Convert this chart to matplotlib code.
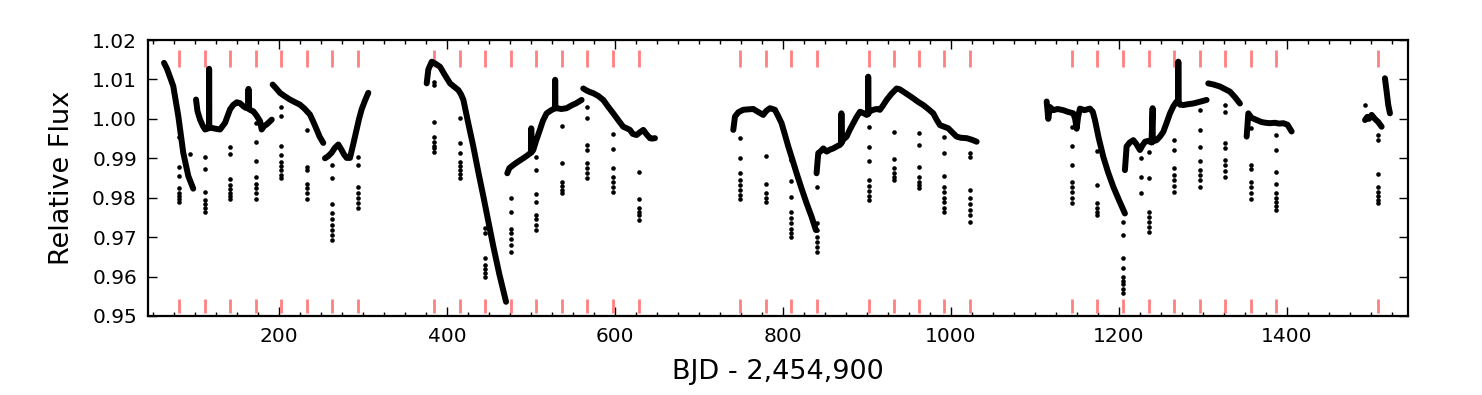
import matplotlib
matplotlib.use("Agg")
import matplotlib.pyplot as plt
from matplotlib.ticker import MultipleLocator, FormatStrFormatter

# ---- continuous light-curve segments (time, flux) ----
seg1_t = [62.7, 66.0, 70.0, 73.7, 79.7, 85.6, 91.6, 97.5]
seg1_f = [1.0142, 1.0128, 1.0105, 1.0083, 1.0007, 0.9914, 0.9855, 0.9823]

seg2_t = [100.8, 102.5, 105.6, 109.0, 111.6, 114.5, 116.3, 116.4, 116.6, 119.5, 124.0, 129.4,
          135.4, 141.3, 145.0, 149.3, 153.0, 157.2, 160.0, 163.2, 163.3, 163.5, 166.0, 169.1,
          173.0, 177.1, 179.0, 182.0, 185.0, 188.0, 191.0]
seg2_f = [1.0049, 1.0020, 0.9998, 0.9982, 0.9973, 0.9975, 0.9978, 1.0127, 0.9978, 0.9977, 0.9975, 0.9973,
          0.9990, 1.0024, 1.0035, 1.0042, 1.0040, 1.0032, 1.0028, 1.0028, 1.0076, 1.0025, 1.0022, 1.0019,
          1.0008, 0.9994, 0.9973, 0.9982, 0.9986, 0.9992, 0.9998]

seg3_t = [192.1, 196.0, 200.8, 206.0, 212.7, 218.0, 224.6, 230.0, 236.5, 240.0, 244.5, 248.0, 252.4]
seg3_f = [1.0087, 1.0078, 1.0066, 1.0058, 1.0049, 1.0043, 1.0036, 1.0026, 1.0011, 0.9995, 0.9973, 0.9955, 0.9939]

seg4_t = [254.4, 258.0, 262.3, 266.0, 270.3, 274.0, 277.0, 280.2, 284.2, 288.0, 292.1, 295.0, 298.1, 302.0, 306.0]
seg4_f = [0.9900, 0.9905, 0.9914, 0.9926, 0.9935, 0.9922, 0.9910, 0.9901, 0.9901, 0.9935, 0.9973, 1.0000, 1.0024, 1.0046, 1.0066]

seg5_t = [375.6, 377.5, 381.6, 386.0, 391.5, 397.0, 403.4, 408.0, 413.3, 416.5, 419.3, 425.0, 431.2,
          437.0, 443.1, 449.0, 455.0, 462.0, 470.1]
seg5_f = [1.0090, 1.0125, 1.0145, 1.0140, 1.0132, 1.0112, 1.0090, 1.0082, 1.0073, 1.0062, 1.0048, 0.9990, 0.9929,
          0.9866, 0.9803, 0.9740, 0.9676, 0.9607, 0.9536]

seg6_t = [471.6, 474.0, 478.7, 484.0, 490.6, 496.0, 500.0, 500.1, 500.3, 502.5, 506.0, 510.4, 514.0,
          518.4, 524.0, 528.5, 528.6, 528.8, 530.3, 536.0, 542.2, 548.0, 554.0, 560.1]
seg6_f = [0.9862, 0.9875, 0.9883, 0.9891, 0.9900, 0.9908, 0.9915, 0.9976, 0.9915, 0.9921, 0.9945, 0.9972, 0.9995,
          1.0014, 1.0022, 1.0027, 1.0099, 1.0027, 1.0027, 1.0025, 1.0027, 1.0034, 1.0040, 1.0048]

seg7_t = [562.1, 566.0, 570.0, 574.0, 580.0, 585.9, 592.0, 597.8, 604.0, 609.7, 614.0, 617.7, 621.0,
          625.6, 629.0, 633.6, 637.0, 641.5, 644.0, 647.5]
seg7_f = [1.0077, 1.0072, 1.0068, 1.0065, 1.0058, 1.0048, 1.0030, 1.0014, 0.9996, 0.9980, 0.9976, 0.9972, 0.9962,
          0.9959, 0.9965, 0.9972, 0.9962, 0.9951, 0.9950, 0.9951]

seg8_t = [740.8, 742.8, 747.0, 752.7, 758.0, 764.6, 770.0, 776.5, 780.0, 784.4, 790.4, 794.0, 798.3,
          802.0, 806.3, 811.0, 816.2, 822.0, 828.1, 834.0, 839.2]
seg8_f = [0.9972, 1.0006, 1.0017, 1.0023, 1.0024, 1.0025, 1.0018, 1.0010, 1.0020, 1.0027, 1.0023, 1.0008, 0.9989,
          0.9962, 0.9930, 0.9898, 0.9862, 0.9824, 0.9786, 0.9752, 0.9718]

seg9_t = [840.0, 842.0, 845.0, 848.0, 852.0, 856.0, 859.9, 864.0, 867.8, 869.5, 869.6, 869.8, 872.0,
          875.8, 879.5, 883.7, 887.5, 891.7, 895.5, 899.6, 901.4, 901.5, 901.7, 904.0, 907.6,
          911.5, 915.5, 919.5, 923.4, 929.0, 935.4, 939.0, 943.3, 949.0, 955.2, 961.0, 967.1,
          973.0, 979.0, 983.0, 987.0, 992.0, 996.9, 1002.0, 1006.8, 1012.0, 1018.8, 1025.0, 1030.7]
seg9_f = [0.9862, 0.9913, 0.9918, 0.9925, 0.9917, 0.9922, 0.9925, 0.9930, 0.9934, 0.9938, 1.0014, 0.9940, 0.9948,
          0.9955, 0.9972, 0.9989, 1.0004, 1.0018, 1.0015, 1.0010, 1.0012, 1.0107, 1.0014, 1.0020, 1.0023,
          1.0025, 1.0023, 1.0035, 1.0048, 1.0063, 1.0077, 1.0075, 1.0069, 1.0061, 1.0052, 1.0043, 1.0035,
          1.0025, 1.0014, 0.9998, 0.9984, 0.9980, 0.9976, 0.9965, 0.9955, 0.9952, 0.9951, 0.9947, 0.9942]

seg10_t = [1114.1, 1116.0, 1118.0, 1122.0, 1127.0, 1133.9, 1139.0, 1145.8, 1148.0, 1149.8, 1151.5,
           1153.7, 1159.0, 1165.6, 1169.0, 1171.6, 1176.0, 1181.5, 1187.0, 1193.4, 1200.0, 1207.3]
seg10_f = [1.0044, 1.0000, 1.0030, 1.0022, 1.0025, 1.0022, 1.0018, 1.0014, 1.0000, 0.9975, 1.0005,
           1.0026, 1.0022, 1.0026, 1.0018, 0.9997, 0.9952, 0.9904, 0.9866, 0.9828, 0.9795, 0.9760]

seg11_t = [1207.3, 1209.3, 1213.0, 1217.3, 1221.0, 1225.2, 1228.0, 1231.2, 1235.0, 1239.0, 1240.3, 1240.5,
           1242.0, 1245.1, 1249.0, 1253.0, 1257.0, 1261.0, 1265.0, 1268.9, 1270.8, 1270.9, 1271.1,
           1273.0, 1276.8, 1282.0, 1288.7, 1296.0, 1304.6]
seg11_f = [0.9870, 0.9930, 0.9940, 0.9946, 0.9936, 0.9921, 0.9932, 0.9942, 0.9944, 0.9940, 1.0027, 0.9942,
           0.9944, 0.9946, 0.9955, 0.9967, 0.9990, 1.0014, 1.0032, 1.0044, 1.0044, 1.0145, 1.0040,
           1.0036, 1.0035, 1.0037, 1.0039, 1.0043, 1.0048]

seg12_t = [1306.6, 1313.0, 1320.5, 1326.0, 1332.4, 1338.0, 1344.3]
seg12_f = [1.0090, 1.0087, 1.0082, 1.0076, 1.0069, 1.0056, 1.0039]

seg13_t = [1352.3, 1354.3, 1358.0, 1364.2, 1370.0, 1375.0, 1380.1, 1386.0, 1391.0, 1396.0, 1401.0, 1405.9]
seg13_f = [0.9955, 1.0014, 1.0003, 0.9997, 0.9992, 0.9990, 0.9989, 0.9990, 0.9988, 0.9989, 0.9985, 0.9968]

seg14_t = [1493.3, 1496.0, 1498.0, 1501.2, 1505.0, 1509.0, 1513.1]
seg14_f = [0.9997, 1.0005, 1.0000, 1.0010, 1.0000, 0.9992, 0.9980]

seg15_t = [1517.0, 1519.0, 1521.0, 1523.0]
seg15_f = [1.0103, 1.0070, 1.0035, 1.0014]

segments_t = [seg1_t, seg2_t, seg3_t, seg4_t, seg5_t, seg6_t, seg7_t, seg8_t,
              seg9_t, seg10_t, seg11_t, seg12_t, seg13_t, seg14_t, seg15_t]
segments_f = [seg1_f, seg2_f, seg3_f, seg4_f, seg5_f, seg6_f, seg7_f, seg8_f,
              seg9_f, seg10_f, seg11_f, seg12_f, seg13_f, seg14_f, seg15_f]

# ---- transit times (red markers) ----
transit_times = [80.9, 111.9, 141.6, 172.6, 202.4, 233.4, 263.1, 294.1,
                 384.3, 415.6, 445.0, 476.0, 505.8, 537.1, 566.9, 597.9, 628.1,
                 749.1, 780.1, 809.9, 840.7, 902.0, 931.7, 962.2, 992.0, 1023.2,
                 1144.6, 1174.4, 1205.0, 1236.3, 1266.0, 1297.0, 1326.7, 1357.7, 1387.5,
                 1509.1]

# ---- in-transit flux points (one list per transit) ----
dip_flux = [
    [0.9955, 0.9879, 0.9856, 0.9824, 0.9812, 0.9805, 0.9798, 0.9790],
    [0.9904, 0.9874, 0.9815, 0.9795, 0.9785, 0.9775, 0.9765],
    [0.9929, 0.9911, 0.9847, 0.9832, 0.9822, 0.9812, 0.9805, 0.9798],
    [0.9989, 0.9942, 0.9894, 0.9853, 0.9836, 0.9825, 0.9812, 0.9798],
    [1.0031, 1.0007, 0.9932, 0.9908, 0.9891, 0.9880, 0.9870, 0.9858, 0.9849],
    [0.9972, 0.9879, 0.9870, 0.9836, 0.9825, 0.9812, 0.9798],
    [0.9883, 0.9849, 0.9784, 0.9760, 0.9745, 0.9730, 0.9718, 0.9705, 0.9693],
    [0.9904, 0.9883, 0.9828, 0.9811, 0.9800, 0.9787, 0.9773],
    [1.0094, 1.0086, 0.9991, 0.9955, 0.9942, 0.9932, 0.9925, 0.9917],
    [1.0001, 0.9940, 0.9913, 0.9891, 0.9880, 0.9870, 0.9860, 0.9849],
    [0.9722, 0.9710, 0.9646, 0.9630, 0.9620, 0.9610, 0.9600],
    [0.9800, 0.9765, 0.9720, 0.9710, 0.9695, 0.9680, 0.9663],
    [0.9904, 0.9870, 0.9809, 0.9790, 0.9756, 0.9745, 0.9730, 0.9718],
    [0.9982, 0.9887, 0.9841, 0.9830, 0.9820, 0.9811],
    [1.0029, 1.0002, 0.9934, 0.9921, 0.9887, 0.9875, 0.9862, 0.9849],
    [0.9961, 0.9923, 0.9875, 0.9853, 0.9840, 0.9828, 0.9815],
    [0.9864, 0.9796, 0.9773, 0.9765, 0.9755, 0.9743],
    [0.9951, 0.9900, 0.9862, 0.9845, 0.9832, 0.9820, 0.9808, 0.9798],
    [0.9907, 0.9835, 0.9811, 0.9800, 0.9790],
    [0.9896, 0.9843, 0.9803, 0.9765, 0.9748, 0.9735, 0.9720, 0.9710, 0.9701],
    [0.9828, 0.9735, 0.9718, 0.9700, 0.9688, 0.9675, 0.9663],
    [0.9980, 0.9929, 0.9894, 0.9845, 0.9830, 0.9818, 0.9805, 0.9794],
    [0.9966, 0.9897, 0.9875, 0.9862, 0.9853, 0.9845],
    [0.9963, 0.9934, 0.9879, 0.9853, 0.9840, 0.9832, 0.9824],
    [0.9955, 0.9913, 0.9856, 0.9828, 0.9815, 0.9800, 0.9788, 0.9775, 0.9765],
    [0.9913, 0.9904, 0.9820, 0.9800, 0.9785, 0.9770, 0.9755, 0.9739],
    [0.9980, 0.9932, 0.9883, 0.9841, 0.9828, 0.9815, 0.9800, 0.9786],
    [0.9919, 0.9832, 0.9786, 0.9775, 0.9765, 0.9756],
    [0.9739, 0.9705, 0.9646, 0.9621, 0.9600, 0.9590, 0.9580, 0.9568, 0.9558],
    [0.9917, 0.9849, 0.9765, 0.9750, 0.9738, 0.9725, 0.9714],
    [0.9946, 0.9921, 0.9875, 0.9858, 0.9845, 0.9830, 0.9815],
    [1.0022, 0.9973, 0.9928, 0.9894, 0.9870, 0.9858, 0.9845, 0.9828],
    [1.0035, 1.0018, 0.9938, 0.9925, 0.9896, 0.9882, 0.9868, 0.9853],
    [0.9976, 0.9883, 0.9872, 0.9841, 0.9828, 0.9812, 0.9798],
    [0.9959, 0.9921, 0.9866, 0.9835, 0.9811, 0.9800, 0.9790, 0.9780, 0.9769],
    [0.9959, 0.9946, 0.9860, 0.9828, 0.9815, 0.9805, 0.9795, 0.9787],
]

# extra isolated points
extra_t = [94.0, 1226.0, 1226.0, 1226.0, 1493.0]
extra_f = [0.9911, 0.9900, 0.9853, 0.9811, 1.0035]

fig = plt.figure(figsize=(14.82, 3.95), dpi=100)
ax = fig.add_axes([148 / 1482, 1 - 316 / 395, 1260 / 1482, 276 / 395])

for t, f in zip(segments_t, segments_f):
    ax.plot(t, f, color="black", lw=4.3, solid_capstyle="round", solid_joinstyle="round", zorder=3)

for tt, fl in zip(transit_times, dip_flux):
    ax.plot([tt] * len(fl), fl, "o", color="black", ms=3.3, mew=0, zorder=3)
ax.plot(extra_t, extra_f, "o", color="black", ms=3.3, mew=0, zorder=3)

red = "#ff8080"
for tt in transit_times:
    ax.plot([tt, tt], [1.0131, 1.0174], color=red, lw=2.0, zorder=2, solid_capstyle="butt")
    ax.plot([tt, tt], [0.9507, 0.9542], color=red, lw=2.0, zorder=2, solid_capstyle="butt")

ax.set_xlim(43.6, 1544.5)
ax.set_ylim(0.95, 1.02)
ax.xaxis.set_major_locator(MultipleLocator(200))
ax.xaxis.set_minor_locator(MultipleLocator(25))
ax.yaxis.set_major_locator(MultipleLocator(0.01))
ax.yaxis.set_major_formatter(FormatStrFormatter("%.2f"))
ax.tick_params(which="both", direction="in", top=True, right=True, labelsize=14.5)
ax.tick_params(which="major", length=6.5, width=1.0, pad=8)
ax.tick_params(which="minor", length=3.0, width=1.0)
for sp in ax.spines.values():
    sp.set_linewidth(1.6)

ax.set_xlabel("BJD - 2,454,900", fontsize=19.5, labelpad=9)
ax.set_ylabel("Relative Flux", fontsize=19.5, labelpad=12)

fig.savefig("out.png", dpi=100)
